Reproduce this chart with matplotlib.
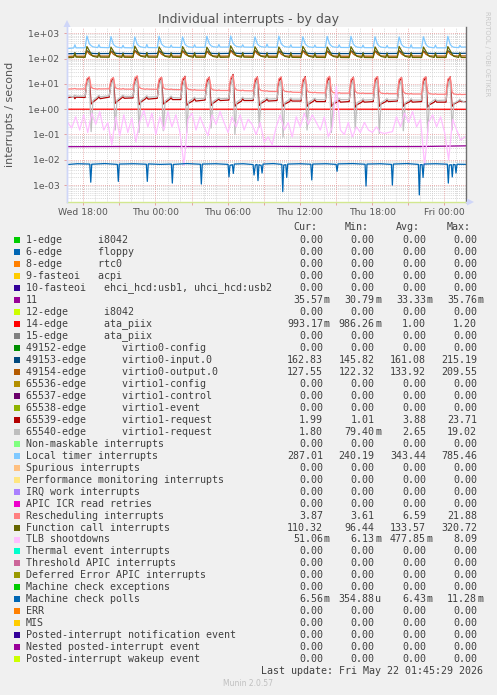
import numpy as np
import matplotlib
matplotlib.use("Agg")
import matplotlib.pyplot as plt
from matplotlib.patches import Rectangle, Polygon

W, H = 497, 695

# time is counted in hours from Wed 00:00
spike_hours = [18.3, 20.3, 22.28, 24.3, 26.25, 28.27, 30.25, 32.27,
               34.25, 36.25, 38.27, 40.25, 42.25, 44.25, 46.27, 48.3]
spike_offsets = [-0.15, 0.0, 0.2, 0.35, 0.5, 0.9, 1.0, 1.1]
lead_hours = [16.65, 17.2, 17.3, 17.4]
tail_hours = [49.85]

# rows: lead (4 pts), one row per 2h cycle (8 pts), tail (1 pt)
local_timer = [
    [250, 262, 350, 265],
    [268, 780, 385, 325, 292, 272, 355, 276],
    [270, 745, 365, 312, 286, 266, 335, 270],
    [266, 722, 372, 316, 290, 270, 362, 274],
    [271, 765, 382, 322, 291, 276, 342, 280],
    [276, 724, 370, 316, 292, 277, 352, 281],
    [281, 762, 392, 321, 296, 281, 361, 285],
    [286, 785, 402, 331, 301, 286, 352, 286],
    [282, 722, 381, 321, 296, 281, 372, 284],
    [281, 771, 392, 326, 296, 281, 351, 281],
    [280, 732, 381, 320, 291, 276, 342, 279],
    [276, 752, 382, 316, 290, 276, 351, 276],
    [274, 762, 371, 311, 286, 271, 341, 271],
    [270, 731, 372, 311, 284, 270, 332, 268],
    [266, 722, 362, 306, 281, 266, 352, 266],
    [265, 732, 371, 306, 282, 266, 342, 266],
    [266, 761, 362, 301, 281, 271, 332, 284],
    [287],
]
virtio0_input = [
    [155, 158, 166, 157],
    [158, 205, 178, 166, 160, 157, 168, 158],
    [159, 200, 176, 165, 160, 158, 166, 159],
    [158, 208, 180, 167, 161, 157, 170, 158],
    [160, 202, 175, 165, 160, 158, 167, 159],
    [159, 204, 178, 166, 161, 158, 168, 160],
    [160, 199, 175, 164, 160, 158, 166, 159],
    [161, 215, 184, 168, 162, 159, 169, 160],
    [160, 206, 179, 166, 161, 158, 167, 159],
    [159, 201, 176, 165, 160, 157, 168, 158],
    [158, 207, 180, 166, 160, 157, 166, 158],
    [159, 200, 175, 164, 159, 157, 167, 158],
    [158, 204, 178, 165, 160, 158, 168, 159],
    [159, 202, 176, 165, 160, 158, 166, 159],
    [160, 206, 179, 166, 161, 159, 168, 160],
    [160, 201, 177, 165, 161, 159, 167, 160],
    [161, 205, 178, 166, 162, 160, 168, 161],
    [162.8],
]
virtio0_output = [
    [122, 125, 138, 124],
    [125, 200, 152, 136, 129, 125, 142, 126],
    [126, 195, 150, 135, 128, 125, 140, 125],
    [125, 204, 155, 137, 129, 126, 143, 126],
    [126, 197, 150, 135, 128, 125, 141, 125],
    [125, 201, 153, 136, 129, 126, 142, 126],
    [126, 194, 149, 134, 128, 125, 140, 125],
    [126, 209, 158, 138, 130, 126, 143, 126],
    [125, 202, 153, 136, 129, 125, 141, 125],
    [125, 196, 150, 135, 128, 125, 142, 125],
    [125, 203, 154, 136, 129, 125, 140, 125],
    [125, 195, 150, 134, 128, 124, 141, 125],
    [124, 200, 152, 135, 128, 124, 142, 125],
    [125, 197, 151, 135, 128, 125, 140, 125],
    [125, 202, 153, 136, 129, 125, 142, 126],
    [126, 196, 150, 135, 128, 126, 141, 126],
    [126, 200, 152, 136, 129, 126, 142, 127],
    [127.5],
]
function_call = [
    [108, 112, 170, 114],
    [112, 300, 205, 150, 124, 112, 168, 114],
    [113, 285, 198, 146, 122, 111, 160, 113],
    [112, 310, 210, 152, 125, 113, 172, 114],
    [113, 290, 200, 148, 123, 112, 165, 113],
    [112, 298, 204, 150, 124, 112, 168, 113],
    [113, 282, 196, 145, 122, 111, 162, 112],
    [114, 320, 215, 155, 126, 113, 170, 114],
    [112, 295, 203, 149, 124, 112, 166, 113],
    [112, 288, 199, 147, 123, 111, 168, 112],
    [111, 305, 208, 151, 124, 111, 160, 112],
    [111, 286, 198, 146, 122, 110, 165, 111],
    [110, 296, 203, 149, 123, 110, 167, 111],
    [110, 290, 200, 147, 122, 110, 162, 111],
    [111, 302, 206, 150, 123, 111, 168, 111],
    [111, 287, 198, 146, 122, 111, 164, 111],
    [111, 298, 204, 149, 123, 111, 166, 111],
    [110.3],
]
rescheduling = [
    [6.2, 6.4, 6.6, 6.3],
    [6.3, 16.0, 19.0, 7.5, 6.6, 6.2, 6.5, 6.3],
    [6.4, 15.0, 18.0, 7.4, 6.5, 6.2, 6.6, 6.2],
    [6.2, 17.0, 21.0, 7.6, 6.6, 6.1, 6.4, 6.2],
    [6.1, 15.5, 18.5, 7.2, 6.3, 6.0, 6.3, 6.0],
    [5.9, 16.0, 19.0, 7.0, 6.1, 5.7, 6.0, 5.7],
    [5.6, 15.0, 18.0, 6.8, 5.8, 5.5, 5.8, 5.5],
    [5.5, 17.0, 21.88, 6.8, 5.7, 5.4, 5.7, 5.4],
    [5.3, 15.5, 18.5, 6.5, 5.5, 5.2, 5.4, 5.1],
    [5.0, 16.0, 19.0, 6.0, 5.1, 4.8, 5.0, 4.7],
    [4.6, 15.0, 18.0, 5.6, 4.7, 4.5, 4.7, 4.5],
    [4.4, 16.5, 20.0, 5.4, 4.5, 4.3, 4.5, 4.3],
    [4.3, 15.0, 18.0, 5.2, 4.4, 4.2, 4.4, 4.2],
    [4.2, 16.0, 19.5, 5.1, 4.3, 4.1, 4.3, 4.1],
    [4.1, 15.0, 18.0, 5.0, 4.2, 4.0, 4.2, 4.0],
    [4.0, 16.0, 19.0, 4.9, 4.1, 3.9, 4.1, 3.9],
    [3.9, 15.5, 18.5, 4.8, 4.0, 3.8, 4.0, 3.8],
    [3.87],
]
virtio1_request = [
    [2.8, 3.2, 2.6, 3.0],
    [2.9, 14.0, 18.0, 1.6, 1.9, 2.7, 3.2, 2.6],
    [3.0, 12.0, 17.0, 1.7, 2.0, 2.8, 3.1, 2.7],
    [2.8, 13.0, 19.0, 1.5, 1.9, 2.6, 3.0, 2.5],
    [2.7, 12.5, 18.0, 1.6, 1.8, 2.5, 2.9, 2.4],
    [2.4, 13.0, 20.0, 1.4, 1.7, 2.2, 2.6, 2.1],
    [2.3, 12.0, 18.5, 1.4, 1.7, 2.3, 2.5, 2.2],
    [2.3, 14.0, 23.71, 1.3, 1.6, 2.1, 2.6, 2.2],
    [2.2, 12.0, 19.0, 1.4, 1.7, 2.2, 2.5, 2.1],
    [2.2, 13.0, 18.0, 1.3, 1.6, 2.0, 2.4, 2.1],
    [2.1, 12.0, 19.5, 1.3, 1.6, 2.1, 2.4, 2.0],
    [2.0, 12.5, 18.0, 1.3, 1.6, 2.0, 2.3, 1.9],
    [2.0, 12.0, 18.5, 1.2, 1.5, 1.9, 2.2, 1.9],
    [2.0, 13.0, 19.0, 1.3, 1.6, 2.0, 2.3, 2.0],
    [2.1, 12.0, 18.0, 1.3, 1.6, 2.0, 2.3, 1.9],
    [2.0, 12.5, 18.5, 1.2, 1.5, 1.9, 2.2, 1.9],
    [1.9, 13.0, 19.0, 1.3, 1.6, 2.0, 2.2, 2.0],
    [1.99],
]
virtio1_request2 = [
    [3.4, 3.1, 3.6, 3.3],
    [3.3, 9.0, 16.0, 0.13, 2.2, 3.2, 3.5, 3.1],
    [3.4, 8.5, 15.0, 0.15, 2.3, 3.3, 3.6, 3.2],
    [3.2, 9.0, 17.0, 0.12, 2.2, 3.1, 3.4, 3.0],
    [3.1, 8.0, 15.5, 0.14, 2.1, 3.0, 3.3, 2.9],
    [2.8, 8.0, 15.0, 0.12, 2.0, 2.7, 3.0, 2.6],
    [2.7, 7.5, 14.5, 0.18, 2.0, 2.7, 2.9, 2.6],
    [2.7, 8.5, 19.02, 0.1, 1.9, 2.6, 3.0, 2.6],
    [2.6, 7.5, 15.0, 0.2, 2.0, 2.6, 2.9, 2.5],
    [2.6, 8.0, 14.0, 0.079, 1.8, 2.5, 2.8, 2.5],
    [2.5, 7.5, 15.0, 0.15, 1.9, 2.5, 2.7, 2.4],
    [2.4, 8.0, 14.0, 0.12, 1.8, 2.4, 2.7, 2.4],
    [2.4, 7.5, 14.5, 0.16, 1.8, 2.3, 2.6, 2.3],
    [2.4, 8.0, 15.0, 0.11, 1.8, 2.4, 2.6, 2.3],
    [2.4, 7.5, 14.0, 0.14, 1.8, 2.3, 2.6, 2.3],
    [2.3, 8.0, 14.5, 0.12, 1.7, 2.3, 2.5, 2.2],
    [2.3, 7.5, 15.0, 0.15, 1.7, 2.2, 2.5, 2.2],
    [1.8],
]

tlb_start, tlb_step = 16.7, 1 / 3
tlb_shootdowns = [
    0.3, 0.18, 0.5, 0.15, 0.6, 0.12, 0.7, 0.25, 0.8, 0.15,
    0.3, 0.04, 0.5, 0.09, 0.6, 0.12, 0.45, 0.05, 0.35, 0.9,
    0.2, 0.7, 0.1, 0.5, 0.15, 0.8, 0.2, 0.6, 0.12, 0.006,
    0.4, 0.7, 0.15, 0.5, 0.2, 0.09, 0.6, 0.25, 0.8, 0.3,
    0.12, 0.5, 0.2, 0.6, 0.15, 0.4, 0.25, 0.1, 0.3, 0.05,
    0.08, 0.04, 0.2, 0.6, 0.15, 0.3, 0.08, 0.5, 0.2, 0.7,
    0.25, 0.6, 0.3, 0.15, 0.5, 0.08, 0.2, 8.09, 0.15, 0.1,
    0.3, 0.08, 0.2, 0.12, 0.3, 0.15, 0.12, 0.2, 0.12, 0.11,
    0.12, 0.13, 0.5, 0.2, 0.7, 0.3, 0.8, 0.2, 0.4, 0.006,
    0.3, 0.6, 0.2, 0.5, 0.12, 0.01, 0.4, 0.15, 0.06, 0.08,
]

mcp_hours = [16.65, 17.5, 18.54, 18.62, 18.70, 19.8, 20.83, 20.91, 20.99, 22.2,
             23.24, 23.32, 23.40, 24.4, 25.32, 25.40, 25.48, 26.6, 27.73, 27.81,
             27.89, 29.0, 30.03, 30.11, 30.19, 30.39, 30.47, 30.55, 31.3, 32.11,
             32.19, 32.30, 32.44, 32.52, 32.60, 32.78, 32.86, 32.94, 33.8, 34.50,
             34.58, 34.66, 34.83, 34.91, 34.99, 36.0, 36.91, 36.99, 37.07, 38.2,
             39.01, 39.09, 39.17, 40.4, 41.42, 41.50, 41.58, 42.7, 43.61, 43.69,
             43.77, 44.9, 45.85, 45.93, 46.01, 46.16, 46.24, 46.32, 47.3, 48.26,
             48.34, 48.42, 48.59, 48.67, 48.75, 48.90, 48.98, 49.06, 49.85]
mcp_vals = [0.0065, 0.0070, 0.0068, 0.0013, 0.0067, 0.0071, 0.0066, 0.0014, 0.0068, 0.0070,
            0.0067, 0.0014, 0.0069, 0.0066, 0.0068, 0.0012, 0.0066, 0.0071, 0.0067, 0.0011,
            0.0068, 0.0070, 0.0066, 0.0021, 0.0060, 0.0064, 0.0029, 0.0068, 0.0070, 0.0065,
            0.0025, 0.0062, 0.0066, 0.0015, 0.0064, 0.0060, 0.0030, 0.0068, 0.0071, 0.0066,
            0.00055, 0.0062, 0.0064, 0.0020, 0.0068, 0.0070, 0.0067, 0.0016, 0.0068, 0.0070,
            0.0066, 0.0035, 0.0069, 0.0071, 0.0067, 0.00092, 0.0068, 0.0070, 0.0066, 0.0010,
            0.0068, 0.0071, 0.0066, 0.00041, 0.0064, 0.0065, 0.0020, 0.0068, 0.0070, 0.0067,
            0.0012, 0.0062, 0.0064, 0.0021, 0.0066, 0.0064, 0.0030, 0.0067, 0.0066]

irq11_hours = [16.65, 22.0, 28.0, 34.0, 40.0, 46.0, 49.85]
irq11_vals = [0.0330, 0.0335, 0.0332, 0.0336, 0.0331, 0.0334, 0.0356]
ata_hours = [16.65, 25.0, 33.0, 41.0, 49.85]
ata_vals = [1.0, 1.0, 1.0, 1.0, 0.993]

# legend table
legend_labels = [
    "1-edge      i8042", "6-edge      floppy", "8-edge      rtc0", "9-fasteoi   acpi",
    "10-fasteoi   ehci_hcd:usb1, uhci_hcd:usb2", "11", "12-edge      i8042",
    "14-edge      ata_piix", "15-edge      ata_piix", "49152-edge      virtio0-config",
    "49153-edge      virtio0-input.0", "49154-edge      virtio0-output.0",
    "65536-edge      virtio1-config", "65537-edge      virtio1-control",
    "65538-edge      virtio1-event", "65539-edge      virtio1-request",
    "65540-edge      virtio1-request", "Non-maskable interrupts", "Local timer interrupts",
    "Spurious interrupts", "Performance monitoring interrupts", "IRQ work interrupts",
    "APIC ICR read retries", "Rescheduling interrupts", "Function call interrupts",
    "TLB shootdowns", "Thermal event interrupts", "Threshold APIC interrupts",
    "Deferred Error APIC interrupts", "Machine check exceptions", "Machine check polls",
    "ERR", "MIS", "Posted-interrupt notification event", "Nested posted-interrupt event",
    "Posted-interrupt wakeup event",
]
legend_colors = [
    "#00cc00", "#0066b3", "#ff8000", "#ffcc00", "#330099", "#990099", "#ccff00",
    "#ff0000", "#808080", "#008f00", "#00487d", "#b35a00", "#b38f00", "#6b006b",
    "#8fb300", "#b30000", "#bebebe", "#80ff80", "#80c9ff", "#ffc080", "#ffe680",
    "#aa80ff", "#ee00cc", "#ff8080", "#666600", "#ffbfff", "#00ffcc", "#cc6699",
    "#999900", "#00cc00", "#0066b3", "#ff8000", "#ffcc00", "#330099", "#990099",
    "#ccff00",
]
Z = "0.00"
cur_col = [Z, Z, Z, Z, Z, "35.57m", Z, "993.17m", Z, Z, "162.83", "127.55", Z, Z, Z,
           "1.99", "1.80", Z, "287.01", Z, Z, Z, Z, "3.87", "110.32", "51.06m", Z, Z, Z,
           Z, "6.56m", Z, Z, Z, Z, Z]
min_col = [Z, Z, Z, Z, Z, "30.79m", Z, "986.26m", Z, Z, "145.82", "122.32", Z, Z, Z,
           "1.01", "79.40m", Z, "240.19", Z, Z, Z, Z, "3.61", "96.44", "6.13m", Z, Z, Z,
           Z, "354.88u", Z, Z, Z, Z, Z]
avg_col = [Z, Z, Z, Z, Z, "33.33m", Z, "1.00", Z, Z, "161.08", "133.92", Z, Z, Z,
           "3.88", "2.65", Z, "343.44", Z, Z, Z, Z, "6.59", "133.57", "477.85m", Z, Z, Z,
           Z, "6.43m", Z, Z, Z, Z, Z]
max_col = [Z, Z, Z, Z, Z, "35.76m", Z, "1.20", Z, Z, "215.19", "209.55", Z, Z, Z,
           "23.71", "19.02", Z, "785.46", Z, Z, Z, Z, "21.88", "320.72", "8.09", Z, Z, Z,
           Z, "11.28m", Z, Z, Z, Z, Z]

x_tick_hours = [18, 24, 30, 36, 42, 48]
x_tick_labels = ["Wed 18:00", "Thu 00:00", "Thu 06:00", "Thu 12:00", "Thu 18:00", "Fri 00:00"]


def flat(rows):
    return [v for row in rows for v in row]


spiky_hours = lead_hours + [t + o for t in spike_hours for o in spike_offsets] + tail_hours
tlb_hours = tlb_start + tlb_step * np.arange(len(tlb_shootdowns))

MONO = "DejaVu Sans Mono"
FONT_GRAY = "#555555"
TEXT = "#404040"

fig = plt.figure(figsize=(W / 100, H / 100), dpi=100)
fig.patch.set_facecolor("#f0f0f0")

ax = fig.add_axes([67 / W, 1 - 202 / H, 399 / W, 175 / H])
ax.set_facecolor("white")
ax.set_yscale("log")
ax.set_xlim(16.645, 49.81)
ax.set_ylim(10 ** -3.668, 10 ** 3.249)

# grid (rrdtool style)
dot = (0, (1, 1.5))
for n in range(-4, 4):
    for m in range(2, 10):
        ax.axhline(m * 10.0 ** n, color="#cbcbcb", lw=0.6, ls=dot, zorder=0)
for n in range(-3, 4):
    ax.axhline(10.0 ** n, color="#e39494", lw=0.6, ls=dot, zorder=0.5)
for h in range(17, 50):
    major = h % 3 == 0
    ax.axvline(h, color="#e39494" if major else "#cbcbcb", lw=0.6, ls=dot,
               zorder=0.5 if major else 0)

lw = 0.9
ax.plot(irq11_hours, irq11_vals, color="#990099", lw=lw, zorder=2)
ax.plot(ata_hours, ata_vals, color="#ff0000", lw=lw, zorder=2)
ax.plot(spiky_hours, flat(virtio0_input), color="#00487d", lw=lw, zorder=2)
ax.plot(spiky_hours, flat(virtio0_output), color="#b35a00", lw=lw, zorder=2)
ax.plot(spiky_hours, flat(virtio1_request), color="#b30000", lw=lw, zorder=2)
ax.plot(spiky_hours, flat(virtio1_request2), color="#bebebe", lw=lw, zorder=2)
ax.plot(spiky_hours, flat(local_timer), color="#80c9ff", lw=lw, zorder=2)
ax.plot(spiky_hours, flat(rescheduling), color="#ff8080", lw=lw, zorder=2)
ax.plot(spiky_hours, flat(function_call), color="#666600", lw=lw, zorder=2)
ax.plot(tlb_hours, tlb_shootdowns, color="#ffbfff", lw=lw, zorder=2)
ax.plot(mcp_hours, mcp_vals, color="#0066b3", lw=lw, zorder=2)

ax.spines["top"].set_visible(False)
ax.spines["right"].set_color("#707070")
ax.spines["right"].set_linewidth(1)
ax.spines["left"].set_color("#cfd6f8")
ax.spines["left"].set_linewidth(1)
ax.spines["bottom"].set_color("#d2e890")
ax.spines["bottom"].set_linewidth(1)

ax.set_xticks(range(18, 49, 3))
ax.set_xticklabels([x_tick_labels[x_tick_hours.index(h)] if h in x_tick_hours else ""
                    for h in range(18, 49, 3)])
ax.set_yticks([10.0 ** n for n in range(-3, 4)])
ax.set_yticklabels(["1e%+03d" % n for n in range(-3, 4)])
ax.yaxis.set_minor_locator(matplotlib.ticker.NullLocator())
ax.tick_params(axis="both", which="major", length=2, width=0.6, color="#e39494",
               labelsize=6.7, labelcolor=FONT_GRAY)
ax.tick_params(axis="x", pad=2.5)
ax.tick_params(axis="y", pad=3.5)

# overlay in pixel coordinates for text, arrows and legend
ov = fig.add_axes([0, 0, 1, 1], zorder=5)
ov.set_xlim(0, W)
ov.set_ylim(H, 0)
ov.axis("off")
ov.patch.set_alpha(0)

ov.add_patch(Polygon([(63.5, 27), (70.5, 27), (67, 20)], closed=True, color="#cfd6f8", lw=0))
ov.plot([67, 67], [27, 202], color="#cfd6f8", lw=1)
ov.plot([466, 470], [202, 202], color="#cfd6f8", lw=1)
ov.add_patch(Polygon([(467, 198.5), (467, 205.5), (474, 202)], closed=True, color="#cfd6f8", lw=0))

ov.text(248.7, 20, "Individual interrupts - by day", ha="center", va="center",
        fontsize=9, color=FONT_GRAY)
ov.text(10, 114, "interrupts / second", ha="center", va="center", rotation=90,
        fontsize=8, color=FONT_GRAY)
ov.text(487, 53.5, "RRDTOOL / TOBI OETIKER", ha="center", va="center", rotation=270,
        fontsize=4.8, color="#c8c8c8")

fs = 7.2
col_right = [322.9, 374.5, 425.9, 476.9]
for x, head in zip([293, 345, 396, 446.7], ["Cur:", "Min:", "Avg:", "Max:"]):
    ov.text(x, 227.3, head, ha="left", va="center", fontsize=fs, family=MONO, color=TEXT)

for i, label in enumerate(legend_labels):
    y = 240 + 11.98 * i
    ov.add_patch(Rectangle((14, y - 3), 6, 6, color=legend_colors[i], lw=0))
    ov.text(26, y, label, ha="left", va="center", fontsize=fs, family=MONO, color=TEXT)
    for xr, col in zip(col_right, [cur_col, min_col, avg_col, max_col]):
        s = col[i]
        unit = ""
        if s[-1] in "mu":
            s, unit = s[:-1], s[-1]
        ov.text(xr, y, s, ha="right", va="center", fontsize=fs, family=MONO, color=TEXT)
        if unit:
            ov.text(xr + 0.6, y, unit, ha="left", va="center", fontsize=fs, family=MONO,
                    color=TEXT)

ov.text(482.7, 671.3, "Last update: Fri May 22 01:45:29 2026", ha="right", va="center",
        fontsize=fs, family=MONO, color=TEXT)
ov.text(248.3, 684, "Munin 2.0.57", ha="center", va="center", fontsize=5.5, color="#c0c0c0")

fig.savefig("out.png", dpi=100, facecolor=fig.get_facecolor())
